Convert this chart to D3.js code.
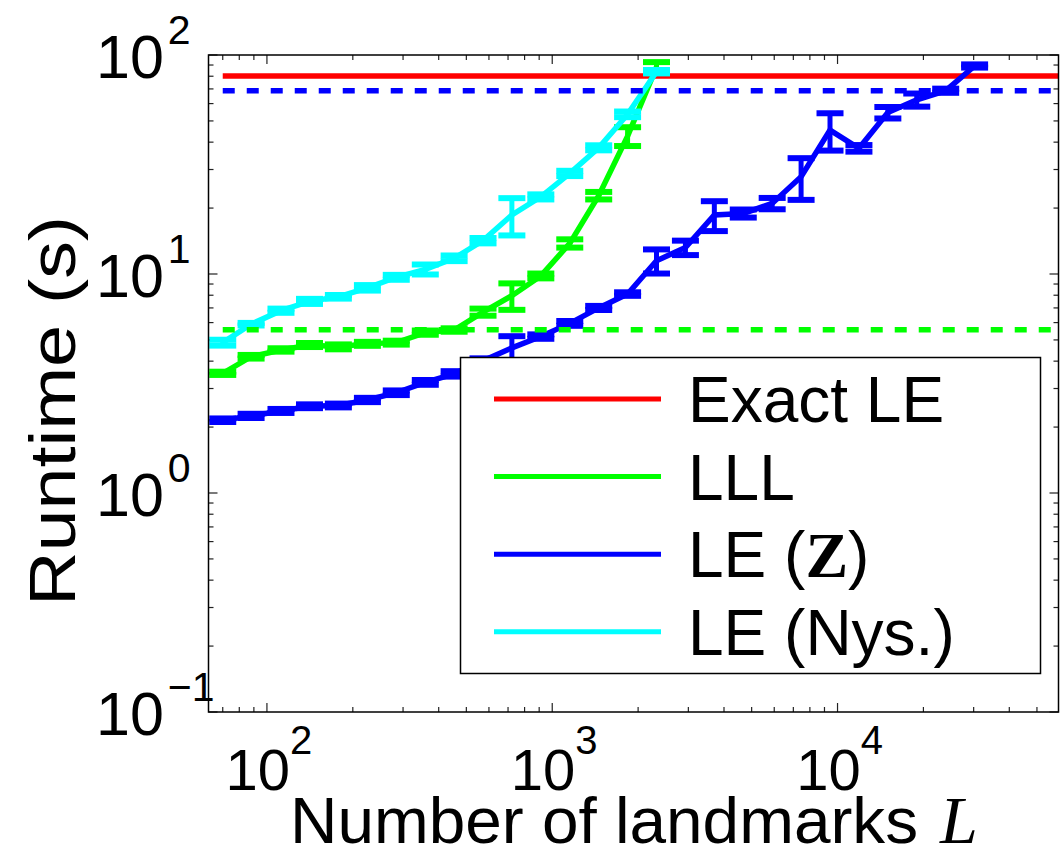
<!DOCTYPE html>
<html>
<head>
<meta charset="utf-8">
<script src="https://cdn.jsdelivr.net/npm/d3@7"></script>
<style>
  body { margin: 0; background: #fff; }
  text { font-family: "Liberation Sans", Arial, sans-serif; fill: #000; }
</style>
</head>
<body>
<script>
var width = 1060,
    height = 852

// number of landmarks
var landmarks = [70, 88, 112, 141, 178, 225, 284, 359, 453, 572, 722, 912, 1152, 1455,
                 1837, 2320, 2930, 3700, 4673, 5901, 7452, 9411, 11885, 15010, 18955, 23938, 30230];

// runtimes (s) and error bar half-widths
var lllTime   = [3.52, 4.19, 4.5, 4.74, 4.65, 4.8, 4.86, 5.4, 5.55, 6.7, 7.96, 9.8, 13.8, 22.8, 42.6, 88];
var lllErr    = [0.06, 0.08, 0.08, 0.1, 0.12, 0.1, 0.1, 0.12, 0.1, 0.25, 1.1, 0.25, 0.6, 0.9, 4.2, 4.8];
var leZTime   = [2.15, 2.25, 2.37, 2.49, 2.51, 2.66, 2.87, 3.2, 3.5, 4.02, 4.6, 5.18, 5.95, 7.0, 8.1,
                 11.5, 13.2, 18.6, 18.9, 21.0, 27.8, 45.4, 37.5, 54.6, 62.4, 68.7, 89.1];
var leZErr    = [0.04, 0.05, 0.05, 0.05, 0.05, 0.06, 0.07, 0.08, 0.1, 0.1, 0.6, 0.12, 0.15, 0.15, 0.15,
                 1.45, 1.0, 2.9, 0.8, 1.25, 6, 8.8, 1.3, 3.3, 4.3, 1.5, 1.5];
var leNysTime = [4.86, 5.9, 6.8, 7.5, 7.87, 8.65, 9.66, 10.5, 11.8, 14.2, 18.6, 22.5, 28.8, 37.7, 53.6, 83.9];
var leNysErr  = [0.15, 0.08, 0.15, 0.2, 0.15, 0.25, 0.25, 0.55, 0.35, 0.4, 3.6, 0.6, 0.8, 1.0, 1.6, 1.5];

// horizontal reference levels
var exactTime = 80.1;
var leZFull   = 68.7;   // blue dashed
var lllFull   = 5.57;   // green dashed

var legendNames = ["Exact LE", "LLL", "LE (Z)", "LE (Nys.)"];
var legendColors = ["#ff0000", "#00ff00", "#0000ff", "#00ffff"];

var xTickExp = [2, 3, 4];
var yTickExp = [-1, 0, 1, 2];

var margin = {left: 208.5, right: 1058.5, top: 55, bottom: 712};

var x = d3.scaleLog().domain([62.4, 59500]).range([margin.left, margin.right]);
var y = d3.scaleLog().domain([0.1, 100]).range([margin.bottom, margin.top]);

var svg = d3.select("body").append("svg")
    .attr("width", width)
    .attr("height", height);

// ticks (inside, on all four sides)
var xMinor = [], yMinor = [];
[10, 100, 1000, 10000].forEach(function(b) {
    for (var m = 2; m <= 9; m++) {
        var v = b * m;
        if (v > x.domain()[0] && v < x.domain()[1]) xMinor.push(v);
    }
});
[0.1, 1, 10].forEach(function(b) {
    for (var m = 2; m <= 9; m++) yMinor.push(b * m);
});

var ticks = svg.append("g").attr("stroke", "#222").attr("stroke-width", 1.2);
function xTick(v, len) {
    ticks.append("line").attr("x1", x(v)).attr("x2", x(v))
        .attr("y1", margin.bottom).attr("y2", margin.bottom - len);
    ticks.append("line").attr("x1", x(v)).attr("x2", x(v))
        .attr("y1", margin.top).attr("y2", margin.top + len);
}
function yTick(v, len) {
    ticks.append("line").attr("y1", y(v)).attr("y2", y(v))
        .attr("x1", margin.left).attr("x2", margin.left + len);
    ticks.append("line").attr("y1", y(v)).attr("y2", y(v))
        .attr("x1", margin.right).attr("x2", margin.right - len);
}
xMinor.forEach(function(v) { xTick(v, 5); });
xTickExp.forEach(function(e) { xTick(Math.pow(10, e), 9); });
yMinor.forEach(function(v) { yTick(v, 5); });
yTickExp.forEach(function(e) { yTick(Math.pow(10, e), 9); });

// tick labels
function expText(e) { return e < 0 ? "\u2212" + (-e) : "" + e; }

xTickExp.forEach(function(e) {
    var t = svg.append("text")
        .attr("x", x(Math.pow(10, e)) + 2)
        .attr("y", 790)
        .attr("text-anchor", "middle")
        .style("font-size", "58px");
    t.append("tspan").text("10");
    t.append("tspan").attr("dy", -36).style("font-size", "40px").text(expText(e));
});

yTickExp.forEach(function(e) {
    var t = svg.append("text")
        .attr("x", 96)
        .attr("y", y(Math.pow(10, e)) + 23)
        .style("font-size", "61px");
    t.append("tspan").text("10");
    t.append("tspan").attr("dx", 4).attr("dy", -34).style("font-size", "41px").text(expText(e));
});

// axis titles
var xt = svg.append("text")
    .attr("x", 290)
    .attr("y", 843)
    .style("font-size", "65px");
xt.append("tspan")
    .attr("textLength", 628)
    .attr("lengthAdjust", "spacingAndGlyphs")
    .text("Number of landmarks");
xt.append("tspan")
    .attr("dx", 22)
    .style("font-family", "'Liberation Serif', 'DejaVu Serif', serif")
    .style("font-style", "italic")
    .style("font-size", "68px")
    .text("L");

svg.append("text")
    .attr("transform", "translate(75,411) rotate(-90)")
    .attr("text-anchor", "middle")
    .attr("textLength", 390)
    .attr("lengthAdjust", "spacingAndGlyphs")
    .style("font-size", "65px")
    .text("Runtime (s)");

// data
var plot = svg.append("g");

plot.append("line")
    .attr("x1", x(landmarks[0])).attr("x2", margin.right)
    .attr("y1", y(exactTime)).attr("y2", y(exactTime))
    .attr("stroke", legendColors[0]).attr("stroke-width", 5.5);

function drawSeries(vals, errs, color) {
    var pts = vals.map(function(v, i) { return {L: landmarks[i], v: v, e: errs[i]}; });
    var line = d3.line()
        .x(function(d) { return x(d.L); })
        .y(function(d) { return y(d.v); });
    var g = plot.append("g").attr("stroke", color).attr("fill", "none");
    g.append("path").datum(pts)
        .attr("d", line)
        .attr("stroke-width", 5.5);
    var bars = g.selectAll(".err").data(pts).enter().append("g");
    bars.append("line")
        .attr("x1", function(d) { return x(d.L); })
        .attr("x2", function(d) { return x(d.L); })
        .attr("y1", function(d) { return y(d.v + d.e); })
        .attr("y2", function(d) { return y(d.v - d.e); })
        .attr("stroke-width", 5);
    [1, -1].forEach(function(s) {
        bars.append("line")
            .attr("x1", function(d) { return x(d.L) - 13.5; })
            .attr("x2", function(d) { return x(d.L) + 13.5; })
            .attr("y1", function(d) { return y(d.v + s * d.e); })
            .attr("y2", function(d) { return y(d.v + s * d.e); })
            .attr("stroke-width", 6);
    });
}

drawSeries(lllTime, lllErr, legendColors[1]);
drawSeries(leZTime, leZErr, legendColors[2]);
drawSeries(leNysTime, leNysErr, legendColors[3]);

plot.append("line")
    .attr("x1", x(landmarks[0])).attr("x2", margin.right - 3)
    .attr("y1", y(leZFull)).attr("y2", y(leZFull))
    .attr("stroke", legendColors[2]).attr("stroke-width", 5.5)
    .attr("stroke-dasharray", "12,12");
plot.append("line")
    .attr("x1", x(landmarks[0])).attr("x2", margin.right - 3)
    .attr("y1", y(lllFull)).attr("y2", y(lllFull))
    .attr("stroke", legendColors[1]).attr("stroke-width", 5.5)
    .attr("stroke-dasharray", "12,12");

// axes box
svg.append("rect")
    .attr("x", margin.left).attr("y", margin.top)
    .attr("width", margin.right - margin.left)
    .attr("height", margin.bottom - margin.top)
    .attr("fill", "none").attr("stroke", "#000").attr("stroke-width", 1.5);

// legend
var legend = svg.append("g");
legend.append("rect")
    .attr("x", 460.5).attr("y", 357.5).attr("width", 580).attr("height", 316)
    .attr("fill", "#fff").attr("stroke", "#000").attr("stroke-width", 1.5);

legendNames.forEach(function(name, i) {
    var ly = 399 + i * 77.6;
    legend.append("line")
        .attr("x1", 494).attr("x2", 661)
        .attr("y1", ly).attr("y2", ly)
        .attr("stroke", legendColors[i]).attr("stroke-width", 5);
    var t = legend.append("text")
        .attr("x", 688).attr("y", ly + 23)
        .style("font-size", "64px");
    if (name == "LE (Z)") {
        t.append("tspan").text("LE (");
        t.append("tspan")
            .style("font-family", "'Liberation Serif', 'DejaVu Serif', serif")
            .style("font-weight", "bold")
            .text("Z");
        t.append("tspan").text(")");
    } else {
        t.text(name);
    }
});
</script>
</body>
</html>
